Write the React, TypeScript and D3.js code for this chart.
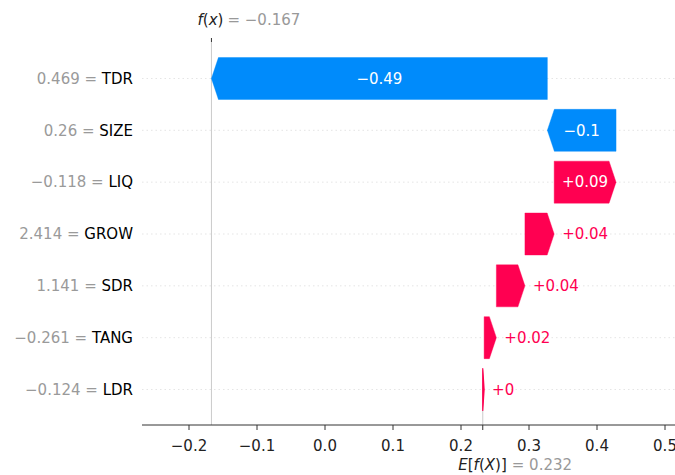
import React from "react";
import * as d3 from "d3";

// Feature contributions, ordered top to bottom
const features = ["TDR", "SIZE", "LIQ", "GROW", "SDR", "TANG", "LDR"];
const featureValues = [0.469, 0.26, -0.118, 2.414, 1.141, -0.261, -0.124];
const shapValues = [-0.494, -0.101, 0.091, 0.043, 0.042, 0.018, 0.002];
const baseValue = 0.232;
const xTicks = [-0.2, -0.1, 0.0, 0.1, 0.2, 0.3, 0.4, 0.5];

const W = 675;
const H = 475;
const RED = "#ff0051";
const BLUE = "#008bfb";
const FONT = "DejaVu Sans, sans-serif";
const FS = 15;

const MINUS = "\u2212";

// "%0.Nf" with trailing zeros removed
function trimmed(v: number, digits: number, signed: boolean): string {
  let s = Math.abs(v).toFixed(digits);
  if (s.includes(".")) s = s.replace(/0+$/, "").replace(/\.$/, "");
  const neg = v < 0 && parseFloat(s) !== 0;
  if (neg) return MINUS + s;
  return (signed ? "+" : "") + s;
}

// rough DejaVu Sans advance widths (em)
function textWidth(s: string, size: number): number {
  let w = 0;
  for (const c of s) {
    if (c === "." || c === " ") w += 0.318;
    else if (c === "+" || c === MINUS || c === "=") w += 0.838;
    else w += 0.636;
  }
  return w * size;
}

export default function App() {
  const x = d3.scaleLinear().domain([-0.2, 0.5]).range([189, 665]);
  const xLeft = x.invert(142);
  const xRight = x.invert(W + 20);
  const y = d3.scaleLinear().domain([0, features.length - 1]).range([78.5, 389.5]);
  const barH = 42;
  const axisY = 425;
  const plotTop = 42;

  const n = features.length;
  const fx = baseValue + d3.sum(shapValues);

  // cumulative start of each bar, accumulating upward from the base value
  const starts: number[] = new Array(n);
  let acc = baseValue;
  for (let i = n - 1; i >= 0; i--) {
    starts[i] = acc;
    acc += shapValues[i];
  }

  const bars = features.map((f, i) => {
    const v = shapValues[i];
    const x0 = x(starts[i]);
    const x1 = x(starts[i] + v);
    const dir = v >= 0 ? 1 : -1;
    const w = Math.abs(x1 - x0);
    const hl = Math.min(7, w);
    const cy = y(i);
    const top = cy - barH / 2;
    const bot = cy + barH / 2;
    const pts: [number, number][] = [
      [x0, top],
      [x1 - dir * hl, top],
      [x1, cy],
      [x1 - dir * hl, bot],
      [x0, bot],
    ];
    const color = v >= 0 ? RED : BLUE;
    const label = trimmed(v, 2, true);
    const inside = textWidth(label, FS) + 8 < w;
    return { f, i, v, x0, x1, dir, cy, pts, color, label, inside, w };
  });

  const line = d3.line();

  return (
    <svg
      width={W}
      height={H}
      style={{ position: "absolute", left: 0, top: 0, background: "#fff" }}
      fontFamily={FONT}
    >
      {/* row guide lines */}
      {features.map((f, i) => (
        <line
          key={"g" + f}
          x1={x(xLeft)}
          x2={W}
          y1={y(i)}
          y2={y(i)}
          stroke="#d4d4d4"
          strokeWidth={0.6}
          strokeDasharray="1.5,3"
        />
      ))}

      {/* f(x) and E[f(X)] reference lines */}
      <line x1={x(fx)} x2={x(fx)} y1={plotTop} y2={axisY} stroke="#c4c4c4" strokeWidth={0.9} />
      <line
        x1={x(baseValue)}
        x2={x(baseValue)}
        y1={axisY - (axisY - plotTop) / n}
        y2={axisY}
        stroke="#c4c4c4"
        strokeWidth={0.9}
      />

      {/* bars */}
      {bars.map((b) => (
        <path
          key={"b" + b.f}
          d={line(b.pts) + "Z"}
          fill={b.color}
          stroke={b.color}
          strokeWidth={b.w < 3 ? 1.2 : 0.4}
          strokeLinejoin="round"
        />
      ))}

      {/* bar value labels */}
      {bars.map((b) =>
        b.inside ? (
          <text
            key={"l" + b.f}
            x={(b.x0 + b.x1) / 2}
            y={b.cy}
            dy="0.35em"
            textAnchor="middle"
            fontSize={FS}
            fill="#fff"
          >
            {b.label}
          </text>
        ) : (
          <text
            key={"l" + b.f}
            x={b.x1 + b.dir * 8}
            y={b.cy}
            dy="0.35em"
            textAnchor={b.dir > 0 ? "start" : "end"}
            fontSize={FS}
            fill={b.color}
          >
            {b.label}
          </text>
        )
      )}

      {/* feature labels */}
      {features.map((f, i) => (
        <text key={"y" + f} x={133} y={y(i)} dy="0.35em" textAnchor="end" fontSize={FS}>
          <tspan fill="#9a9a9a">{trimmed(featureValues[i], 3, false) + " = "}</tspan>
          <tspan fill="#000">{f}</tspan>
        </text>
      ))}

      {/* bottom axis */}
      <line x1={x(xLeft)} x2={x(xRight)} y1={axisY} y2={axisY} stroke="#333" strokeWidth={1} />
      {xTicks.map((t) => (
        <g key={"t" + t} transform={`translate(${x(t)},${axisY})`}>
          <line y1={0} y2={5} stroke="#333" strokeWidth={1} />
          <text y={26} textAnchor="middle" fontSize={FS} fill="#222">
            {d3.format(".1f")(t)}
          </text>
        </g>
      ))}

      {/* E[f(X)] marker */}
      <line x1={x(baseValue)} x2={x(baseValue)} y1={axisY} y2={axisY + 5} stroke="#333" strokeWidth={1} />
      <text x={x(baseValue) + 24} y={470} textAnchor="end" fontSize={FS} fill="#222">
        <tspan fontStyle="italic">E</tspan>
        <tspan>[</tspan>
        <tspan fontStyle="italic">f</tspan>
        <tspan>(</tspan>
        <tspan fontStyle="italic">X</tspan>
        <tspan>)]</tspan>
      </text>
      <text x={x(baseValue) + 29} y={470} textAnchor="start" fontSize={FS} fill="#999">
        {"= " + trimmed(baseValue, 3, false)}
      </text>

      {/* f(x) marker */}
      <line x1={x(fx)} x2={x(fx)} y1={plotTop - 4} y2={plotTop} stroke="#333" strokeWidth={1} />
      <text x={x(fx) + 12} y={25} textAnchor="end" fontSize={FS} fill="#222">
        <tspan fontStyle="italic">f</tspan>
        <tspan>(</tspan>
        <tspan fontStyle="italic">x</tspan>
        <tspan>)</tspan>
      </text>
      <text x={x(fx) + 16} y={25} textAnchor="start" fontSize={FS} fill="#999">
        {"= " + trimmed(fx, 3, false)}
      </text>
    </svg>
  );
}
